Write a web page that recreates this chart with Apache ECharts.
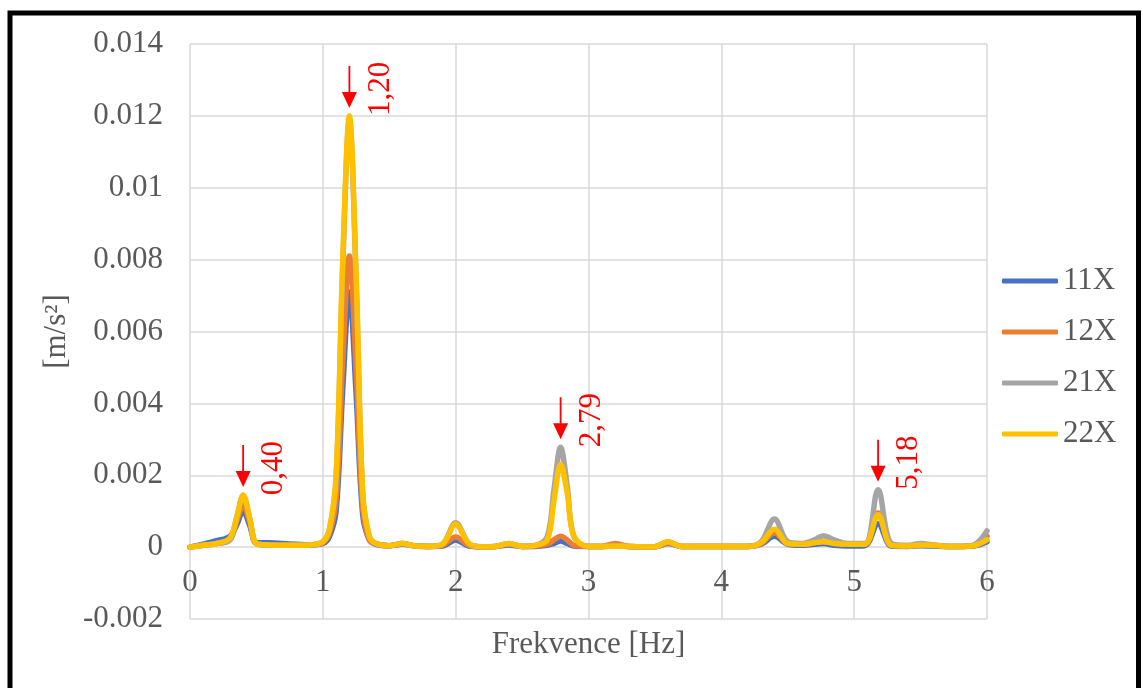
<!DOCTYPE html>
<html>
<head>
<meta charset="utf-8">
<title>Frekvenční spektrum zrychlení</title>
<script src="https://cdn.jsdelivr.net/npm/echarts@6/dist/echarts.min.js"></script>
<style>
  html, body { margin: 0; padding: 0; background: #ffffff; }
  #chart { width: 1143px; height: 688px; }
</style>
</head>
<body>
<div id="chart"></div>
<script>
// Frequency axis samples [Hz]
const freq = [0, 0.1, 0.2, 0.3, 0.35, 0.4, 0.45, 0.5, 0.6, 0.7, 0.8, 0.9,
  1.0, 1.05, 1.1, 1.15, 1.2, 1.25, 1.3, 1.35, 1.4, 1.5, 1.6, 1.7, 1.8, 1.9,
  2.0, 2.1, 2.2, 2.3, 2.4, 2.5, 2.6, 2.69, 2.74, 2.79, 2.84, 2.89,
  3.0, 3.1, 3.2, 3.3, 3.4, 3.5, 3.6, 3.7, 3.8, 3.9,
  4.0, 4.1, 4.2, 4.3, 4.4, 4.5, 4.6, 4.7, 4.77, 4.85, 4.95,
  5.08, 5.18, 5.28, 5.4, 5.5, 5.6, 5.7, 5.8, 5.9, 6.0];

// Acceleration amplitudes [m/s²] per sensor
const s11X = [0, 0.00008, 0.00018, 0.0003, 0.0006, 0.0010, 0.0006, 0.00012, 0.00012, 0.0001, 0.00008, 0.00006,
  0.0001, 0.0003, 0.0010, 0.0044, 0.0071, 0.0043, 0.0009, 0.0002, 0.00008, 0.00004, 0.00008, 0.00003, 0.00002, 0.00003,
  0.0002, 0.00003, 0.00001, 0.00002, 0.00006, 0.00002, 0.00002, 0.00005, 0.0001, 0.00017, 0.0001, 0.00003,
  0.00002, 0.00002, 0.00005, 0.00002, 0.00001, 0.00001, 0.0001, 0.00002, 0.00002, 0.00002,
  0.00002, 0.00002, 0.00002, 0.00008, 0.0003, 0.00008, 0.00005, 0.00008, 0.0001, 0.00005, 0.00003,
  0.00004, 0.00065, 0.00003, 0.00002, 0.00004, 0.00003, 0.00002, 0.00002, 0.00003, 0.00015];

const s12X = [0, 0.00005, 0.0001, 0.0002, 0.0007, 0.00115, 0.0007, 0.0001, 0.00006, 0.00005, 0.00005, 0.00006,
  0.00012, 0.0004, 0.0013, 0.0052, 0.0081, 0.0050, 0.0011, 0.0002, 0.0001, 0.00004, 0.0001, 0.00003, 0.00002, 0.00005,
  0.00028, 0.00005, 0.00001, 0.00002, 0.00008, 0.00002, 0.00003, 0.00008, 0.0002, 0.0003, 0.0002, 0.00005,
  0.00002, 0.00002, 0.0001, 0.00002, 0.00001, 0.00001, 0.00012, 0.00002, 0.00002, 0.00002,
  0.00002, 0.00002, 0.00002, 0.0001, 0.0004, 0.0001, 0.00008, 0.00012, 0.00015, 0.0001, 0.00008,
  0.00008, 0.00095, 0.00005, 0.00003, 0.00006, 0.00005, 0.00002, 0.00002, 0.00004, 0.0003];

const s21X = [0, 0.00005, 0.0001, 0.0002, 0.0008, 0.00142, 0.0008, 0.0001, 0.00006, 0.00005, 0.00005, 0.00006,
  0.00015, 0.0005, 0.0019, 0.0078, 0.0119, 0.0075, 0.0015, 0.0003, 0.0001, 0.00004, 0.0001, 0.00003, 0.00002, 0.00008,
  0.00068, 0.0001, 0.00001, 0.00002, 0.0001, 0.00002, 0.00005, 0.0003, 0.0016, 0.00278, 0.0017, 0.0003,
  0.00002, 0.00002, 0.00003, 0.00002, 0.00001, 0.00001, 0.00015, 0.00002, 0.00002, 0.00002,
  0.00002, 0.00002, 0.00002, 0.00015, 0.00078, 0.00015, 0.0001, 0.0002, 0.00032, 0.0002, 0.0001,
  0.0001, 0.0016, 0.0001, 0.00005, 0.0001, 0.00006, 0.00002, 0.00002, 0.00006, 0.00045];

const s22X = [0, 0.00005, 0.0001, 0.00025, 0.0008, 0.00145, 0.0008, 0.0001, 0.00006, 0.00005, 0.00005, 0.00006,
  0.00015, 0.0005, 0.0020, 0.0080, 0.0120, 0.0076, 0.0015, 0.0003, 0.0001, 0.00004, 0.0001, 0.00003, 0.00002, 0.00008,
  0.00064, 0.0001, 0.00001, 0.00002, 0.0001, 0.00002, 0.00005, 0.0002, 0.0013, 0.0023, 0.0015, 0.0003,
  0.00002, 0.00002, 0.00003, 0.00002, 0.00001, 0.00001, 0.00015, 0.00002, 0.00002, 0.00002,
  0.00002, 0.00002, 0.00002, 0.00012, 0.0005, 0.0001, 0.00008, 0.00012, 0.00015, 0.0001, 0.00008,
  0.00008, 0.0009, 0.00005, 0.00003, 0.00006, 0.00005, 0.00002, 0.00002, 0.00004, 0.0002];

const seriesNames = ['11X', '12X', '21X', '22X'];
const seriesColors = ['#4472C4', '#ED7D31', '#A5A5A5', '#FFC000'];
const seriesValues = [s11X, s12X, s21X, s22X];

// Frequency tick labels, written along the zero line
const xTickValues = [0, 1, 2, 3, 4, 5, 6];

// Marked dominant frequencies: position, top amplitude, label text
const peakFreq = [0.40, 1.20, 2.79, 5.18];
const peakAmp = [0.00145, 0.0120, 0.00278, 0.0016];
const peakLabels = ['0,40', '1,20', '2,79', '5,18'];

const FONT = '"Liberation Serif", "Times New Roman", serif';
const GREY_TEXT = '#595959';
const GRID_LINE = '#d9d9d9';

const chart = echarts.init(document.getElementById('chart'), null, { renderer: 'canvas' });

const lineSeries = seriesNames.map((name, i) => ({
  name: name,
  type: 'line',
  data: freq.map((f, k) => [f, seriesValues[i][k]]),
  smooth: 0.35,
  symbol: 'none',
  color: seriesColors[i],
  lineStyle: { width: 5.5, color: seriesColors[i], cap: 'round', join: 'round' },
  z: 2 + i,
  animation: false
}));

// Frequency labels placed just under the y = 0 line
const xLabelSeries = {
  type: 'custom',
  name: 'xlabels',
  data: xTickValues.map(v => [v, 0]),
  z: 1,
  silent: true,
  clip: false,
  animation: false,
  renderItem: function (params, api) {
    const p = api.coord([api.value(0), api.value(1)]);
    return {
      type: 'text', x: p[0], y: p[1] + 36,
      style: { text: String(xTickValues[params.dataIndex]), font: '31px ' + FONT, fill: GREY_TEXT,
               align: 'center', verticalAlign: 'middle' }
    };
  }
};

// Red arrows with rotated frequency labels above each dominant peak
const peakSeries = {
  type: 'custom',
  name: 'peaks',
  data: peakFreq.map((f, i) => [f, peakAmp[i]]),
  z: 10,
  silent: true,
  animation: false,
  renderItem: function (params, api) {
    const p = api.coord([api.value(0), api.value(1)]);
    const tip = p[1] - 8;
    return {
      type: 'group',
      children: [
        { type: 'line', shape: { x1: p[0], y1: tip - 42, x2: p[0], y2: tip - 14 },
          style: { stroke: '#ff0000', lineWidth: 1.8 } },
        { type: 'polygon', shape: { points: [[p[0] - 7.5, tip - 16], [p[0] + 7.5, tip - 16], [p[0], tip]] },
          style: { fill: '#ff0000' } },
        { type: 'text', x: p[0] + 31, y: p[1] - 27, rotation: Math.PI / 2,
          style: { text: peakLabels[params.dataIndex], font: '31px ' + FONT, fill: '#ff0000',
                   align: 'center', verticalAlign: 'middle' } }
      ]
    };
  }
};

chart.setOption({
  backgroundColor: '#ffffff',
  animation: false,
  grid: { left: 190, right: 156, top: 44, bottom: 69, containLabel: false, outerBoundsMode: 'none' },
  legend: {
    data: seriesNames,
    orient: 'vertical',
    left: 997,
    top: 260,
    icon: 'roundRect',
    itemWidth: 56,
    itemHeight: 5,
    itemGap: 19,
    textStyle: { fontFamily: FONT, fontSize: 31, color: GREY_TEXT, lineHeight: 32 }
  },
  xAxis: {
    type: 'value',
    min: 0,
    max: 6,
    interval: 1,
    name: 'Frekvence [Hz]',
    nameLocation: 'middle',
    nameGap: 10,
    nameTextStyle: { fontFamily: FONT, fontSize: 31, color: GREY_TEXT },
    axisLine: { show: false },
    axisTick: { show: false },
    axisLabel: { show: false },
    splitLine: { show: true, lineStyle: { color: GRID_LINE, width: 1.5 } }
  },
  yAxis: {
    type: 'value',
    min: -0.002,
    max: 0.014,
    interval: 0.002,
    name: '[m/s²]',
    nameLocation: 'middle',
    nameGap: 118,
    nameRotate: 90,
    nameTextStyle: { fontFamily: FONT, fontSize: 31, color: GREY_TEXT },
    axisLine: { show: false },
    axisTick: { show: false },
    axisLabel: {
      fontFamily: FONT, fontSize: 31, color: GREY_TEXT, margin: 27,
      formatter: v => String(parseFloat(v.toFixed(3)))
    },
    splitLine: { show: true, lineStyle: { color: GRID_LINE, width: 1.5 } }
  },
  graphic: [{
    type: 'rect',
    shape: { x: 10, y: 13, width: 1128.5, height: 720 },
    style: { fill: 'none', stroke: '#000000', lineWidth: 5 },
    silent: true,
    z: 100
  }],
  series: lineSeries.concat([xLabelSeries, peakSeries])
});
</script>
</body>
</html>
